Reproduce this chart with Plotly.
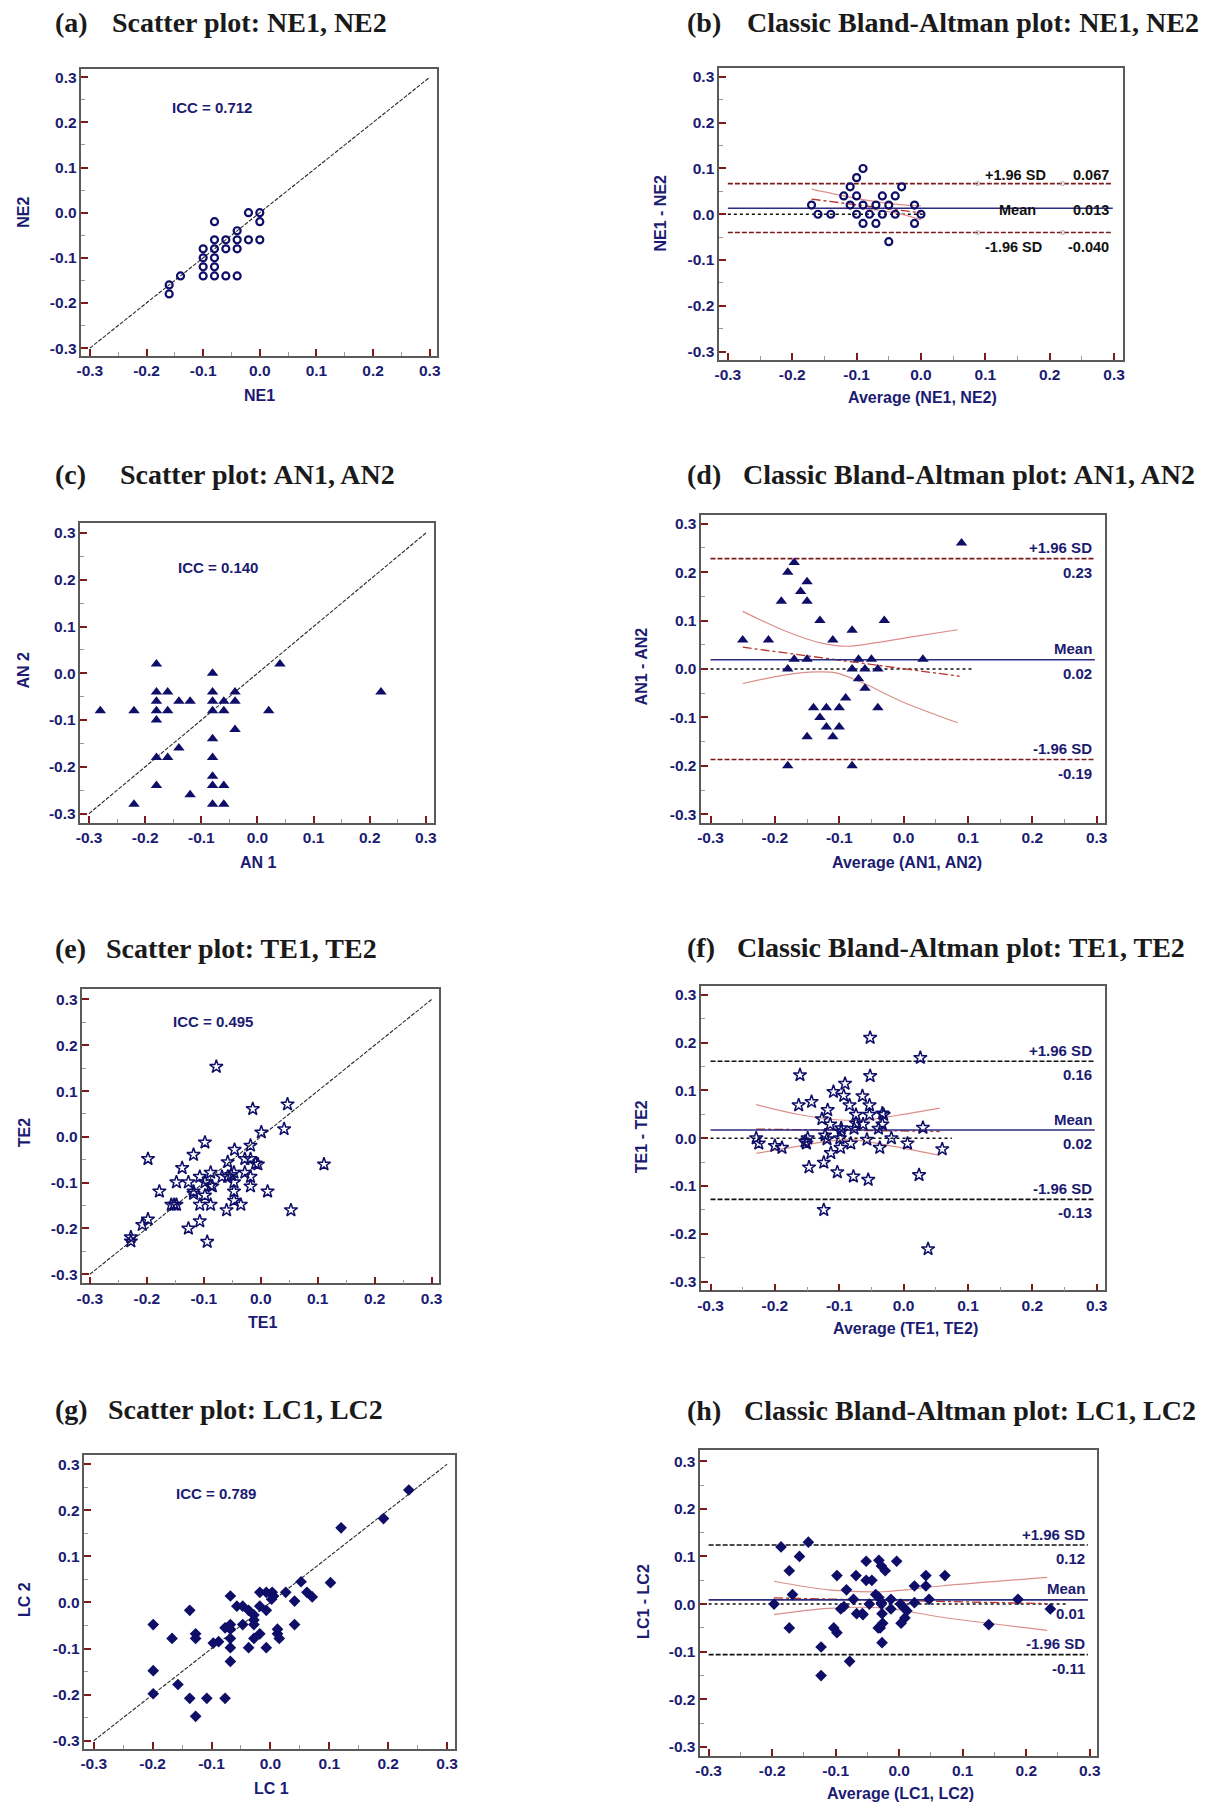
import plotly.graph_objects as go

# ---------------- data ----------------
TICK_VALUES = [-0.3, -0.2, -0.1, 0.0, 0.1, 0.2, 0.3]
TICK_LABELS = ["-0.3", "-0.2", "-0.1", "0.0", "0.1", "0.2", "0.3"]
MINOR_TICKS = [-0.25, -0.15, -0.05, 0.05, 0.15, 0.25]
IDENTITY = [-0.3, 0.3]

# (a) scatter NE
NE1 = [-0.02, 0.0, 0.0, -0.08, -0.04, -0.08, -0.06, -0.04, -0.02, 0.0, -0.10, -0.08, -0.06, -0.04,
       -0.10, -0.08, -0.10, -0.08, -0.10, -0.08, -0.06, -0.04, -0.14, -0.16, -0.16]
NE2 = [0.0, 0.0, -0.02, -0.02, -0.04, -0.06, -0.06, -0.06, -0.06, -0.06, -0.08, -0.08, -0.08, -0.08,
       -0.10, -0.10, -0.12, -0.12, -0.14, -0.14, -0.14, -0.14, -0.14, -0.16, -0.18]
NE_ICC = "ICC = 0.712"
# (b) Bland-Altman NE
NE_AVG = [-0.09, -0.10, -0.11, -0.03, -0.12, -0.10, -0.06, -0.04, -0.17, -0.11, -0.09, -0.07, -0.05,
          -0.01, -0.16, -0.14, -0.10, -0.08, -0.06, -0.04, 0.0, -0.09, -0.07, -0.01, -0.05]
NE_DIFF = [0.10, 0.08, 0.06, 0.06, 0.04, 0.04, 0.04, 0.04, 0.02, 0.02, 0.02, 0.02, 0.02, 0.02,
           0.0, 0.0, 0.0, 0.0, 0.0, 0.0, 0.0, -0.02, -0.02, -0.02, -0.06]
NE_LIMITS = [0.067, 0.013, -0.040]
NE_LIMIT_TEXT = ["0.067", "0.013", "-0.040"]
NE_LINE_X = [-0.3, 0.298]
NE_ZERO_X = [-0.3, 0.007]
NE_REG_X = [-0.17, 0.0]
NE_REG_Y = [0.033, 0.003]
NE_CI_UP_X = [-0.17, -0.09, -0.04, 0.0]
NE_CI_UP_Y = [0.055, 0.032, 0.022, 0.018]
NE_CI_LO_X = [-0.17, -0.09, -0.04, 0.0]
NE_CI_LO_Y = [0.012, 0.012, 0.003, -0.012]
NE_SD_MARK_X = [0.088, 0.22]

# (c) scatter AN
AN1 = [-0.18, -0.08, 0.04, 0.22, -0.18, -0.16, -0.08, -0.04, -0.18, -0.14, -0.12, -0.08, -0.06, -0.04,
       -0.28, -0.22, -0.18, -0.16, -0.08, -0.06, 0.02, -0.18, -0.04, -0.08, -0.14, -0.18, -0.16, -0.08,
       -0.08, -0.18, -0.08, -0.06, -0.12, -0.22, -0.08, -0.06]
AN2 = [0.02, 0.0, 0.02, -0.04, -0.04, -0.04, -0.04, -0.04, -0.06, -0.06, -0.06, -0.06, -0.06, -0.06,
       -0.08, -0.08, -0.08, -0.08, -0.08, -0.08, -0.08, -0.10, -0.12, -0.14, -0.16, -0.18, -0.18, -0.18,
       -0.22, -0.24, -0.24, -0.24, -0.26, -0.28, -0.28, -0.28]
AN_ICC = "ICC = 0.140"
# (d) Bland-Altman AN
AN_AVG = [0.09, -0.17, -0.18, -0.15, -0.16, -0.19, -0.15, -0.13, -0.03, -0.08, -0.25, -0.21, -0.11,
          -0.17, -0.15, -0.07, -0.05, 0.03, -0.18, -0.08, -0.06, -0.04, -0.07, -0.06, -0.09, -0.14,
          -0.12, -0.10, -0.04, -0.13, -0.12, -0.10, -0.15, -0.11, -0.18, -0.08]
AN_DIFF = [0.26, 0.22, 0.20, 0.18, 0.16, 0.14, 0.14, 0.10, 0.10, 0.08, 0.06, 0.06, 0.06, 0.02, 0.02,
           0.02, 0.02, 0.02, 0.0, 0.0, 0.0, 0.0, -0.02, -0.04, -0.06, -0.08, -0.08, -0.08, -0.08,
           -0.10, -0.12, -0.12, -0.14, -0.14, -0.20, -0.20]
AN_LIMITS = [0.228, 0.019, -0.187]
AN_LIMIT_TEXT = ["0.23", "0.02", "-0.19"]
AN_LINE_X = [-0.3, 0.297]
AN_ZERO_X = [-0.3, 0.108]
AN_REG_X = [-0.25, 0.087]
AN_REG_Y = [0.045, -0.015]
AN_CI_UP_X = [-0.25, -0.183, -0.129, -0.087, -0.045, 0.015, 0.084]
AN_CI_UP_Y = [0.119, 0.078, 0.054, 0.047, 0.054, 0.067, 0.081]
AN_CI_LO_X = [-0.25, -0.183, -0.135, -0.105, -0.063, -0.003, 0.084]
AN_CI_LO_Y = [-0.030, -0.012, -0.006, -0.008, -0.029, -0.067, -0.111]

# (e) scatter TE
TE1 = [-0.078, -0.014, 0.047, 0.041, 0.001, -0.098, -0.018, -0.046, -0.118, -0.198, -0.058, -0.028,
       -0.018, -0.009, -0.005, 0.111, -0.138, -0.088, -0.047, -0.028, -0.068, -0.058, -0.052, -0.018,
       -0.107, -0.148, -0.127, -0.098, -0.047, -0.088, -0.085, -0.018, -0.178, -0.118, -0.118, -0.047,
       0.012, -0.098, -0.047, -0.157, -0.152, -0.148, -0.107, -0.088, -0.035, -0.060, 0.053, -0.107,
       -0.198, -0.208, -0.127, -0.228, -0.228, -0.094]
TE2 = [0.153, 0.061, 0.071, 0.017, 0.010, -0.012, -0.019, -0.028, -0.039, -0.048, -0.055, -0.048,
       -0.048, -0.058, -0.060, -0.060, -0.068, -0.078, -0.078, -0.078, -0.087, -0.087, -0.083, -0.087,
       -0.087, -0.099, -0.099, -0.099, -0.099, -0.106, -0.108, -0.108, -0.119, -0.119, -0.124, -0.119,
       -0.119, -0.128, -0.139, -0.148, -0.148, -0.148, -0.148, -0.148, -0.148, -0.160, -0.160, -0.184,
       -0.180, -0.192, -0.200, -0.219, -0.228, -0.229]
TE_ICC = "ICC = 0.495"
# (f) Bland-Altman TE
TE_AVG = [-0.052, 0.026, -0.161, -0.052, -0.091, -0.109, -0.093, -0.064, -0.143, -0.163, -0.084, -0.053,
          -0.118, -0.074, -0.053, -0.033, -0.031, -0.127, -0.114, -0.074, -0.063, -0.033, -0.097, -0.077,
          -0.039, -0.097, 0.030, -0.122, -0.229, -0.149, -0.119, -0.099, -0.019, -0.153, -0.225, -0.151,
          -0.057, -0.082, 0.006, -0.200, -0.189, -0.098, -0.037, 0.060, -0.113, -0.124, -0.147, -0.103,
          0.024, -0.078, -0.055, -0.124, 0.038]
TE_DIFF = [0.210, 0.168, 0.132, 0.130, 0.114, 0.097, 0.089, 0.088, 0.076, 0.069, 0.069, 0.069, 0.059,
           0.049, 0.049, 0.052, 0.049, 0.040, 0.029, 0.031, 0.029, 0.029, 0.021, 0.020, 0.020, 0.014,
           0.022, 0.006, 0.0, 0.0, -0.002, 0.0, 0.0, -0.007, -0.011, -0.011, -0.003, -0.011, -0.011,
           -0.016, -0.020, -0.020, -0.020, -0.023, -0.031, -0.051, -0.061, -0.071, -0.077, -0.080,
           -0.087, -0.150, -0.232]
TE_LIMITS = [0.161, 0.017, -0.128]
TE_LIMIT_TEXT = ["0.16", "0.02", "-0.13"]
TE_LINE_X = [-0.3, 0.297]
TE_ZERO_X = [-0.3, 0.075]
TE_REG_X = [-0.229, 0.056]
TE_REG_Y = [0.019, 0.014]
TE_CI_UP_X = [-0.229, -0.165, -0.099, -0.057, -0.009, 0.056]
TE_CI_UP_Y = [0.070, 0.050, 0.038, 0.038, 0.048, 0.063]
TE_CI_LO_X = [-0.229, -0.165, -0.117, -0.081, -0.033, 0.056]
TE_CI_LO_Y = [-0.032, -0.017, -0.006, -0.003, -0.013, -0.036]

# (g) scatter LC
LC1 = [0.235, 0.192, 0.120, 0.102, 0.052, 0.062, 0.071, 0.026, -0.018, -0.007, 0.003, 0.005, 0.002,
       0.041, -0.068, -0.057, -0.047, -0.037, -0.018, -0.007, -0.137, -0.028, -0.028, -0.028, -0.047,
       -0.068, -0.077, -0.068, -0.199, 0.041, 0.012, 0.012, -0.018, -0.127, -0.068, -0.127, -0.167,
       -0.028, 0.015, -0.088, -0.097, -0.068, -0.037, -0.007, -0.068, -0.199, -0.157, -0.199, -0.137,
       -0.108, -0.077, -0.127]
LC2 = [0.244, 0.182, 0.162, 0.043, 0.045, 0.022, 0.012, 0.022, 0.022, 0.022, 0.022, 0.014, 0.007,
       0.003, 0.014, -0.008, -0.008, -0.017, -0.008, -0.017, -0.017, -0.027, -0.038, -0.048, -0.048,
       -0.048, -0.055, -0.058, -0.048, -0.048, -0.058, -0.068, -0.068, -0.068, -0.078, -0.078, -0.078,
       -0.078, -0.078, -0.085, -0.088, -0.098, -0.098, -0.098, -0.128, -0.148, -0.178, -0.198, -0.208,
       -0.208, -0.208, -0.247]
LC_ICC = "ICC = 0.789"
# (h) Bland-Altman LC
LC_AVG = [-0.143, -0.186, -0.157, -0.173, -0.032, -0.052, -0.004, -0.028, -0.022, -0.098, -0.068, 0.042,
          0.072, -0.052, -0.043, 0.024, 0.042, -0.083, -0.168, -0.037, -0.032, -0.072, -0.013, 0.187,
          0.047, -0.028, 0.024, -0.197, -0.047, -0.028, 0.002, -0.087, -0.092, -0.013, 0.007, 0.012,
          0.238, -0.067, -0.058, -0.027, -0.057, -0.173, -0.026, -0.030, -0.033, 0.009, 0.003, -0.103,
          -0.098, 0.141, -0.027, -0.123, -0.078, -0.123]
LC_DIFF = [0.130, 0.120, 0.100, 0.070, 0.092, 0.090, 0.090, 0.080, 0.070, 0.060, 0.060, 0.060, 0.060,
           0.050, 0.050, 0.038, 0.038, 0.030, 0.020, 0.020, 0.014, 0.010, 0.010, 0.010, 0.010, 0.003,
           0.003, 0.0, 0.0, 0.0, 0.0, -0.005, -0.010, -0.010, -0.007, -0.014, -0.010, -0.020, -0.020,
           -0.020, -0.022, -0.050, -0.040, -0.050, -0.050, -0.029, -0.040, -0.050, -0.060, -0.043,
           -0.081, -0.090, -0.120, -0.150]
LC_LIMITS = [0.124, 0.009, -0.106]
LC_LIMIT_TEXT = ["0.12", "0.01", "-0.11"]
LC_LINE_X = [-0.3, 0.297]
LC_ZERO_X = [-0.3, 0.263]
LC_REG_X = [-0.197, 0.233]
LC_REG_Y = [0.013, 0.001]
LC_CI_UP_X = [-0.197, -0.111, -0.026, 0.065, 0.233]
LC_CI_UP_Y = [0.048, 0.030, 0.026, 0.038, 0.056]
LC_CI_LO_X = [-0.197, -0.111, -0.026, 0.065, 0.233]
LC_CI_LO_Y = [-0.022, -0.009, -0.008, -0.027, -0.055]

LIMIT_NAMES = ["+1.96 SD", "Mean", "-1.96 SD"]

# ---------------- styling / layout ----------------
W, H = 1222, 1807          # browser window
OFF = 8                    # default <body> margin of the written page
FW, FH = W - OFF, H - OFF  # figure size so the figure ends at the window edges
SANS = "Liberation Sans, Arial, sans-serif"
SERIF = "Liberation Serif, Times New Roman, serif"
NAVY = "#1b1b72"
MARK = "#0e0e68"
MAROON = "#7d1b1b"
RED_CI = "#dc8f8a"
RED_REG = "#b8322c"

MARKERS = {
    "circle": dict(symbol="circle-open", size=7, color=MARK, line=dict(width=2.2, color=MARK)),
    "triangle": dict(symbol="triangle-up", size=10, color=MARK),
    "star": dict(symbol="star-open", size=10, color=MARK, line=dict(width=1.5, color=MARK)),
    "diamond": dict(symbol="diamond", size=9, color=MARK),
}

panels = [
    dict(kind="scatter", x=NE1, y=NE2, mk="circle", icc=NE_ICC, icc_pos=(-0.158, 0.234),
         box=(76, 435, 69, 356), xt=(84.5, 427.2), yt=(77.3, 348.3),
         tag="(a)", title="Scatter plot: NE1, NE2", tag_x=47, title_x=105, title_y=23,
         xtitle="NE1", xtitle_pos=(256, 396), ytitle="NE2", ytitle_pos=(18, 212)),
    dict(kind="ba", x=NE_AVG, y=NE_DIFF, mk="circle", limits=NE_LIMITS, ltext=NE_LIMIT_TEXT,
         line_x=NE_LINE_X, zero_x=NE_ZERO_X, reg=(NE_REG_X, NE_REG_Y),
         ci=((NE_CI_UP_X, NE_CI_UP_Y), (NE_CI_LO_X, NE_CI_LO_Y)), sd_color=MAROON, style="split",
         label_color="#111111", sd_marks=NE_SD_MARK_X,
         box=(719, 1126, 68, 360), xt=(727.8, 1117.2), yt=(77.0, 351.7),
         tag="(b)", title="Classic Bland-Altman plot: NE1, NE2", tag_x=685, title_x=745, title_y=23,
         xtitle="Average (NE1, NE2)", xtitle_pos=(924, 398), ytitle="NE1 - NE2", ytitle_pos=(660, 213)),
    dict(kind="scatter", x=AN1, y=AN2, mk="triangle", icc=AN_ICC, icc_pos=(-0.146, 0.226),
         box=(75, 431, 523, 823), xt=(83.7, 423.3), yt=(533.3, 814.0),
         tag="(c)", title="Scatter plot: AN1, AN2", tag_x=47, title_x=113, title_y=475,
         xtitle="AN 1", xtitle_pos=(255, 863), ytitle="AN 2", ytitle_pos=(18, 670)),
    dict(kind="ba", x=AN_AVG, y=AN_DIFF, mk="triangle", limits=AN_LIMITS, ltext=AN_LIMIT_TEXT,
         line_x=AN_LINE_X, zero_x=AN_ZERO_X, reg=(AN_REG_X, AN_REG_Y),
         ci=((AN_CI_UP_X, AN_CI_UP_Y), (AN_CI_LO_X, AN_CI_LO_Y)), sd_color=MAROON, style="stack",
         label_color=NAVY, sd_marks=None,
         box=(701, 1108, 515, 823), xt=(710.3, 1099.7), yt=(524.0, 814.7),
         tag="(d)", title="Classic Bland-Altman plot: AN1, AN2", tag_x=685, title_x=741, title_y=475,
         xtitle="Average (AN1, AN2)", xtitle_pos=(908, 863), ytitle="AN1 - AN2", ytitle_pos=(641, 667)),
    dict(kind="scatter", x=TE1, y=TE2, mk="star", icc=TE_ICC, icc_pos=(-0.157, 0.251),
         box=(77, 437, 990, 1284), xt=(84.5, 429.1), yt=(1000.0, 1275.0),
         tag="(e)", title="Scatter plot: TE1, TE2", tag_x=47, title_x=99, title_y=949,
         xtitle="TE1", xtitle_pos=(259, 1323), ytitle="TE2", ytitle_pos=(18, 1133)),
    dict(kind="ba", x=TE_AVG, y=TE_DIFF, mk="star", limits=TE_LIMITS, ltext=TE_LIMIT_TEXT,
         line_x=TE_LINE_X, zero_x=TE_ZERO_X, reg=(TE_REG_X, TE_REG_Y),
         ci=((TE_CI_UP_X, TE_CI_UP_Y), (TE_CI_LO_X, TE_CI_LO_Y)), sd_color="#111111", style="stack",
         label_color=NAVY, sd_marks=None,
         box=(701, 1108, 987, 1291), xt=(710.3, 1099.7), yt=(995.3, 1282.3),
         tag="(f)", title="Classic Bland-Altman plot: TE1, TE2", tag_x=685, title_x=735, title_y=948,
         xtitle="Average (TE1, TE2)", xtitle_pos=(907, 1329), ytitle="TE1 - TE2", ytitle_pos=(641, 1137)),
    dict(kind="scatter", x=LC1, y=LC2, mk="diamond", icc=LC_ICC, icc_pos=(-0.163, 0.236),
         box=(79, 453, 1456, 1750), xt=(88.4, 444.7), yt=(1465.0, 1741.7),
         tag="(g)", title="Scatter plot: LC1, LC2", tag_x=47, title_x=101, title_y=1410,
         xtitle="LC 1", xtitle_pos=(268, 1789), ytitle="LC 2", ytitle_pos=(18, 1600)),
    dict(kind="ba", x=LC_AVG, y=LC_DIFF, mk="diamond", limits=LC_LIMITS, ltext=LC_LIMIT_TEXT,
         line_x=LC_LINE_X, zero_x=LC_ZERO_X, reg=(LC_REG_X, LC_REG_Y),
         ci=((LC_CI_UP_X, LC_CI_UP_Y), (LC_CI_LO_X, LC_CI_LO_Y)), sd_color="#111111", style="stack",
         label_color=NAVY, sd_marks=None,
         box=(700, 1100, 1451, 1757), xt=(708.4, 1092.7), yt=(1462.0, 1748.0),
         tag="(h)", title="Classic Bland-Altman plot: LC1, LC2", tag_x=685, title_x=742, title_y=1411,
         xtitle="Average (LC1, LC2)", xtitle_pos=(902, 1794), ytitle="LC1 - LC2", ytitle_pos=(642, 1602)),
]

fig = go.Figure()
annotations = []
layout_axes = {}


def paper(px, py):
    return (px - OFF) / FW, 1 - (py - OFF) / FH


axis_common = dict(
    showgrid=False, zeroline=False, showline=True, mirror=True,
    linecolor="#5a5a5a", linewidth=1.5,
    ticks="inside", ticklen=7, tickwidth=1.5, tickcolor=MAROON,
    tickmode="array", tickvals=TICK_VALUES, ticktext=TICK_LABELS,
    tickfont=dict(family=SANS, size=15.5, color=NAVY, weight="bold"),
    minor=dict(ticks="inside", ticklen=4, tickwidth=1, tickcolor="#9a9a9a",
               tickmode="array", tickvals=MINOR_TICKS, showgrid=False),
    fixedrange=True,
)

for i, p in enumerate(panels, start=1):
    sfx = "" if i == 1 else str(i)
    xref, yref = "x" + sfx, "y" + sfx
    L, R, T, B = p["box"]
    xn, xp = p["xt"]
    yp, yn = p["yt"]
    sx = (xp - xn) / 0.6
    sy = (yn - yp) / 0.6
    xr = [-0.3 - (xn - L) / sx, 0.3 + (R - xp) / sx]
    yr = [-0.3 - (B - yn) / sy, 0.3 + (yp - T) / sy]
    x0d, y1d = paper(L, T)
    x1d, y0d = paper(R, B)
    layout_axes["xaxis" + sfx] = dict(axis_common, domain=[x0d, x1d], range=xr, anchor=yref)
    layout_axes["yaxis" + sfx] = dict(axis_common, domain=[y0d, y1d], range=yr, anchor=xref)

    if p["kind"] == "scatter":
        fig.add_trace(go.Scatter(x=IDENTITY, y=IDENTITY, mode="lines", xaxis=xref, yaxis=yref,
                                 line=dict(color="#2a2a2a", width=1.1, dash="4px,1.5px"),
                                 showlegend=False, hoverinfo="skip"))
        fig.add_trace(go.Scatter(x=p["x"], y=p["y"], mode="markers", xaxis=xref, yaxis=yref,
                                 marker=MARKERS[p["mk"]], showlegend=False))
        ix, iy = p["icc_pos"]
        annotations.append(dict(x=ix, y=iy, xref=xref, yref=yref, text=p["icc"], showarrow=False,
                                xanchor="left", yanchor="middle",
                                font=dict(family=SANS, size=15, color=NAVY, weight="bold")))
    else:
        up, mean, lo = p["limits"]
        lx = p["line_x"]
        # zero reference line
        fig.add_trace(go.Scatter(x=p["zero_x"], y=[0, 0], mode="lines", xaxis=xref, yaxis=yref,
                                 line=dict(color="#111111", width=1.5, dash="dot"),
                                 showlegend=False, hoverinfo="skip"))
        # CI curves and regression line
        for cx, cy in p["ci"]:
            fig.add_trace(go.Scatter(x=cx, y=cy, mode="lines", xaxis=xref, yaxis=yref,
                                     line=dict(color=RED_CI, width=1.2, shape="spline"),
                                     showlegend=False, hoverinfo="skip"))
        rx, ry = p["reg"]
        fig.add_trace(go.Scatter(x=rx, y=ry, mode="lines", xaxis=xref, yaxis=yref,
                                 line=dict(color=RED_REG, width=1.3, dash="dashdot"),
                                 showlegend=False, hoverinfo="skip"))
        # limits of agreement
        for val in (up, lo):
            fig.add_trace(go.Scatter(x=lx, y=[val, val], mode="lines", xaxis=xref, yaxis=yref,
                                     line=dict(color=p["sd_color"], width=1.6, dash="5px,2px"),
                                     showlegend=False, hoverinfo="skip"))
        fig.add_trace(go.Scatter(x=lx, y=[mean, mean], mode="lines", xaxis=xref, yaxis=yref,
                                 line=dict(color="#2b2b80", width=1.6),
                                 showlegend=False, hoverinfo="skip"))
        if p["sd_marks"]:
            for val in (up, lo):
                fig.add_trace(go.Scatter(x=p["sd_marks"], y=[val] * len(p["sd_marks"]), mode="markers",
                                         xaxis=xref, yaxis=yref,
                                         marker=dict(symbol="circle-open", size=4, color="#aaaaaa"),
                                         showlegend=False, hoverinfo="skip"))
        fig.add_trace(go.Scatter(x=p["x"], y=p["y"], mode="markers", xaxis=xref, yaxis=yref,
                                 marker=MARKERS[p["mk"]], showlegend=False))
        lf = dict(family=SANS, size=15 if p["style"] == "stack" else 14.5, color=p["label_color"],
                  weight="bold")
        if p["style"] == "stack":
            for name, val, txt in zip(LIMIT_NAMES, p["limits"], p["ltext"]):
                annotations.append(dict(x=0.296, y=val, xref=xref, yref=yref, text=name,
                                        showarrow=False, xanchor="right", yanchor="middle",
                                        yshift=11, font=lf))
                annotations.append(dict(x=0.296, y=val, xref=xref, yref=yref, text=txt,
                                        showarrow=False, xanchor="right", yanchor="middle",
                                        yshift=-13.5, font=lf))
        else:
            shifts = [9, -2, -14]
            lefts = [0.097, 0.118, 0.097]
            for name, val, txt, sh, lx0 in zip(LIMIT_NAMES, p["limits"], p["ltext"], shifts, lefts):
                annotations.append(dict(x=lx0, y=val, xref=xref, yref=yref, text=name,
                                        showarrow=False, xanchor="left", yanchor="middle",
                                        yshift=sh, font=lf))
                annotations.append(dict(x=0.295, y=val, xref=xref, yref=yref, text=txt,
                                        showarrow=False, xanchor="right", yanchor="middle",
                                        yshift=sh, font=lf))

    # panel titles
    tfont = dict(family=SERIF, size=28, color="#1a1a1a", weight="bold")
    tx, ty = paper(p["tag_x"], p["title_y"])
    annotations.append(dict(x=tx, y=ty, xref="paper", yref="paper", text=p["tag"], showarrow=False,
                            xanchor="left", yanchor="middle", font=tfont))
    tx, ty = paper(p["title_x"], p["title_y"])
    annotations.append(dict(x=tx, y=ty, xref="paper", yref="paper", text=p["title"], showarrow=False,
                            xanchor="left", yanchor="middle", font=tfont))
    # axis titles
    afont = dict(family=SANS, size=16, color=NAVY, weight="bold")
    ax_, ay_ = paper(*p["xtitle_pos"])
    annotations.append(dict(x=ax_, y=ay_, xref="paper", yref="paper", text=p["xtitle"], showarrow=False,
                            xanchor="center", yanchor="middle", font=afont))
    ax_, ay_ = paper(*p["ytitle_pos"])
    annotations.append(dict(x=ax_, y=ay_, xref="paper", yref="paper", text=p["ytitle"], showarrow=False,
                            xanchor="center", yanchor="middle", textangle=-90, font=afont))

fig.update_layout(
    width=FW, height=FH, autosize=False,
    margin=dict(l=0, r=0, t=0, b=0),
    paper_bgcolor="white", plot_bgcolor="white",
    showlegend=False,
    annotations=annotations,
    **layout_axes,
)

fig.write_html("out.html")
